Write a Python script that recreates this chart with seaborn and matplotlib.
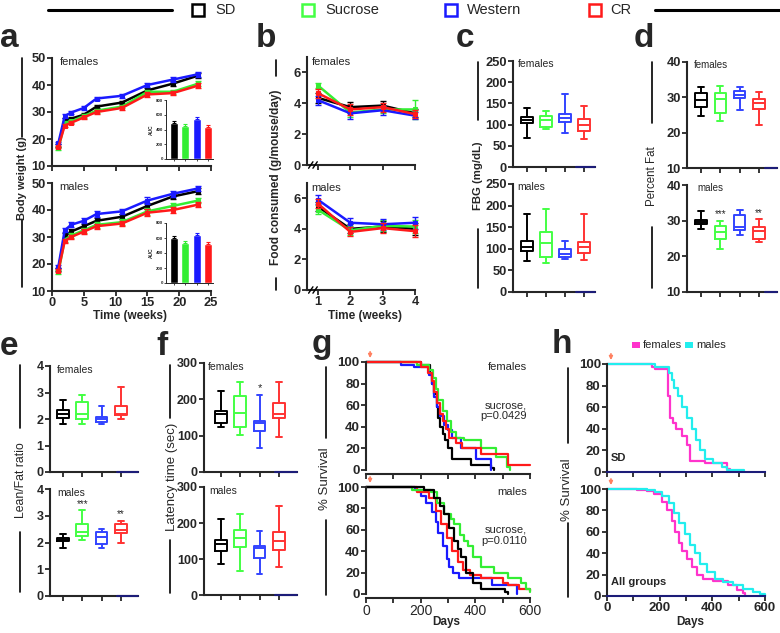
import numpy as np
import pandas as pd
import matplotlib
matplotlib.use('Agg')
import matplotlib.pyplot as plt
import seaborn as sns
from matplotlib.lines import Line2D
from matplotlib.patches import Rectangle

sns.set_style('ticks')
plt.rcParams['font.family'] = ['Liberation Sans', 'DejaVu Sans']

GROUPS = ['SD', 'Sucrose', 'Western', 'CR']
COLORS = ['#000000', '#33ee33', '#1a1aff', '#ff1a1a']
BOX_COLORS = ['#000000', '#44ff44', '#3344ff', '#ff3333']
NAVY = '#1c1c78'

# ---------------- panel a : body weight ----------------
weeks = [1, 2, 3, 5, 7, 11, 15, 19, 23]
bw_f_sd = [17.5, 27.0, 27.5, 29.0, 32.0, 33.5, 38.0, 40.5, 43.5]
bw_f_suc = [16.5, 26.0, 26.5, 28.5, 30.5, 32.0, 37.5, 37.5, 40.5]
bw_f_west = [18.5, 28.5, 29.8, 31.5, 35.0, 36.0, 40.0, 42.0, 44.0]
bw_f_cr = [17.0, 25.0, 26.0, 28.0, 30.0, 31.5, 36.5, 37.0, 39.8]
bw_m_sd = [18.0, 30.5, 32.0, 34.0, 36.0, 37.5, 41.5, 45.0, 47.0]
bw_m_suc = [17.0, 29.0, 30.5, 32.5, 34.5, 35.5, 39.5, 41.5, 43.5]
bw_m_west = [19.0, 32.5, 34.5, 36.0, 38.5, 39.5, 43.5, 46.0, 48.0]
bw_m_cr = [17.5, 28.5, 30.0, 32.0, 34.0, 35.0, 39.0, 40.0, 42.0]
bw_f_err = [0.5, 0.6, 0.6, 0.6, 0.7, 0.7, 0.8, 0.8, 0.9]
bw_m_err = [0.6, 0.8, 0.9, 0.9, 1.0, 1.0, 1.2, 1.0, 1.0]
auc_f = [490, 445, 540, 430]
auc_f_err = [22, 25, 28, 25]
auc_m = [600, 530, 645, 520]
auc_m_err = [22, 25, 28, 25]

# ---------------- panel b : food consumed ----------------
fweeks = [1, 2, 3, 4]
food_f_sd = [4.35, 3.75, 3.85, 3.35]
food_f_suc = [5.15, 3.40, 3.60, 3.60]
food_f_west = [4.20, 3.35, 3.55, 3.20]
food_f_cr = [4.65, 3.60, 3.75, 3.30]
food_f_err = [0.30, 0.35, 0.30, 0.25]
food_f_err_suc = [0.15, 0.30, 0.25, 0.60]
food_m_sd = [5.45, 4.00, 4.15, 4.00]
food_m_suc = [5.25, 3.90, 4.20, 4.15]
food_m_west = [5.90, 4.40, 4.30, 4.40]
food_m_cr = [5.65, 3.80, 4.05, 3.85]
food_m_err = [0.30, 0.30, 0.35, 0.40]

# ---------------- box panels (min, q1, median, q3, max) ----------------
fbg_f = [[68, 103, 110, 118, 138], [90, 95, 110, 120, 132], [80, 105, 115, 125, 173], [66, 85, 99, 113, 144]]
fbg_m = [[72, 95, 105, 118, 180], [67, 80, 113, 138, 193], [76, 82, 88, 100, 118], [74, 90, 104, 116, 180]]
fat_f = [[24.8, 27.3, 29.2, 31.2, 32.8], [23.3, 25.5, 29.5, 31.2, 33.2], [26.5, 29.8, 30.8, 31.8, 33.0], [22.2, 26.8, 28.5, 29.5, 31.5]]
fat_m = [[27.8, 29.0, 29.5, 30.2, 32.8], [22.0, 24.8, 26.8, 28.5, 30.0], [26.0, 27.5, 28.2, 31.5, 33.0], [24.0, 25.0, 27.0, 28.2, 30.5]]
lf_f = [[1.8, 2.05, 2.2, 2.35, 2.7], [1.8, 2.0, 2.2, 2.65, 2.9], [1.8, 1.9, 2.0, 2.08, 2.5], [2.0, 2.15, 2.2, 2.5, 3.2]]
lf_m = [[1.8, 2.05, 2.1, 2.15, 2.3], [2.1, 2.25, 2.4, 2.7, 3.2], [1.8, 1.95, 2.2, 2.4, 2.5], [2.0, 2.35, 2.45, 2.7, 2.8]]
lat_f = [[125, 134, 159, 169, 222], [103, 123, 163, 208, 247], [65, 114, 134, 140, 212], [95, 148, 159, 190, 247]]
lat_m = [[85, 123, 143, 152, 212], [67, 134, 157, 180, 226], [58, 104, 131, 137, 177], [78, 126, 150, 176, 248]]

# ---------------- panel g : survival by diet ----------------
gf_sd_days = [0, 200, 235, 242, 250, 258, 265, 272, 280, 290, 300, 316, 384, 458, 470]
gf_sd_surv = [100, 97, 90, 80, 70, 58, 48, 40, 33, 28, 20, 10, 5, 2, 0]
gf_suc_days = [0, 185, 230, 245, 255, 265, 280, 298, 310, 330, 360, 421, 476, 515, 525]
gf_suc_surv = [100, 97, 93, 85, 75, 65, 55, 45, 35, 30, 28, 20, 12, 3, 0]
gf_west_days = [0, 127, 175, 230, 240, 250, 260, 270, 285, 300, 315, 347, 402, 458]
gf_west_surv = [100, 97, 95, 88, 80, 68, 58, 50, 42, 37, 30, 20, 10, 0]
gf_cr_days = [0, 200, 225, 240, 250, 260, 270, 280, 292, 305, 330, 350, 420, 520, 600]
gf_cr_surv = [100, 95, 90, 82, 72, 62, 52, 45, 38, 30, 25, 20, 15, 5, 5]
gm_sd_days = [0, 212, 249, 270, 286, 304, 323, 335, 347, 366, 390, 421, 507, 519]
gm_sd_surv = [100, 97, 90, 82, 75, 62, 50, 42, 35, 20, 10, 5, 2, 0]
gm_suc_days = [0, 169, 237, 261, 286, 310, 323, 345, 360, 372, 390, 421, 470, 519, 568, 585, 600]
gm_suc_surv = [100, 97, 95, 85, 75, 70, 65, 55, 50, 45, 35, 25, 20, 15, 10, 5, 2]
gm_west_days = [0, 180, 200, 220, 240, 255, 265, 280, 295, 305, 320, 340, 460, 552]
gm_west_surv = [100, 97, 92, 85, 77, 67, 57, 45, 33, 25, 20, 15, 8, 0]
gm_cr_days = [0, 188, 230, 255, 275, 295, 315, 335, 355, 380, 420, 500, 520, 560, 600]
gm_cr_surv = [100, 95, 90, 78, 65, 52, 40, 30, 22, 18, 15, 10, 8, 5, 3]

# ---------------- panel h : survival by sex ----------------
hf_sd_days = [0, 171, 183, 232, 240, 250, 263, 284, 303, 316, 373, 455, 467]
hf_sd_surv = [100, 97, 95, 70, 50, 45, 40, 33, 25, 10, 8, 3, 0]
hm_sd_days = [0, 183, 235, 245, 255, 268, 284, 303, 322, 339, 354, 373, 404, 436, 455, 520]
hm_sd_surv = [100, 97, 92, 85, 78, 70, 60, 50, 40, 30, 20, 12, 8, 5, 2, 1]
hf_all_days = [0, 114, 152, 177, 208, 227, 246, 259, 272, 284, 303, 322, 341, 366, 404, 461, 493, 518, 525]
hf_all_surv = [100, 99, 98, 95, 88, 80, 70, 60, 50, 42, 35, 27, 20, 16, 14, 10, 6, 3, 0]
hm_all_days = [0, 152, 183, 208, 234, 253, 272, 297, 316, 335, 354, 379, 410, 442, 480, 518, 556, 581, 600]
hm_all_surv = [100, 99, 97, 93, 87, 78, 68, 58, 48, 40, 30, 22, 16, 13, 10, 7, 4, 2, 0]

# =====================================================================
W, H = 780, 633
fig = plt.figure(figsize=(7.8, 6.33), dpi=100)


def add_ax(l, t, r, b):
    return fig.add_axes([l / W, 1 - b / H, (r - l) / W, (b - t) / H])


def ftext(x, y, s, **kw):
    fig.text(x / W, 1 - y / H, s, **kw)


def fline(xs, ys, **kw):
    fig.add_artist(Line2D([x / W for x in xs], [1 - y / H for y in ys], **kw))


def style(ax, ylim, yticks, xlim, xticks, xlabels=None, fs=9.5, ylabels=None):
    ax.set_xlim(*xlim)
    ax.set_ylim(*ylim)
    ax.set_yticks(yticks, labels=ylabels if ylabels is not None else [str(v) for v in yticks],
                  fontsize=fs, fontweight='bold')
    ax.set_xticks(xticks, labels=xlabels if xlabels is not None else [''] * len(xticks),
                  fontsize=fs, fontweight='bold')
    for s in ['top', 'right']:
        ax.spines[s].set_visible(False)
    for s in ['left', 'bottom']:
        ax.spines[s].set_linewidth(1.5)
    ax.tick_params(width=1.3, length=3.5, pad=1.0, direction='out')
    ax.set_xlabel('')
    ax.set_ylabel('')
    ax.patch.set_alpha(0)


def line_panel(ax, x, series, errs):
    for vals, err, c in zip(series, errs, COLORS):
        df = pd.DataFrame({'x': x, 'y': vals})
        sns.lineplot(data=df, x='x', y='y', ax=ax, color=c, lw=1.8, marker='s', ms=3,
                     mec=c, estimator=None, legend=False, clip_on=False, zorder=3)
        ax.errorbar(x, vals, yerr=err, fmt='none', ecolor=c, elinewidth=1.0, capsize=2,
                    capthick=1.0, clip_on=False, zorder=3)


def box_panel(ax, data):
    stats = [dict(whislo=s[0], q1=s[1], med=s[2], q3=s[3], whishi=s[4], fliers=[]) for s in data]
    art = ax.bxp(stats, positions=range(len(data)), widths=0.6, showfliers=False, manage_ticks=False)
    for i, c in enumerate(BOX_COLORS):
        for a in [art['boxes'][i], art['medians'][i], art['whiskers'][2 * i], art['whiskers'][2 * i + 1],
                  art['caps'][2 * i], art['caps'][2 * i + 1]]:
            a.set_color(c)
            a.set_linewidth(1.4)


def navy_tail(ax, x0):
    lo, hi = ax.get_xlim()
    y = ax.get_ylim()[0]
    ax.plot([x0, hi], [y, y], color=NAVY, lw=1.5, clip_on=False, zorder=5)


def km(ax, days, surv, color):
    df = pd.DataFrame({'d': days, 's': surv})
    sns.lineplot(data=df, x='d', y='s', ax=ax, color=color, lw=1.6, drawstyle='steps-post',
                 estimator=None, legend=False, clip_on=False)


def arrow(ax):
    ax.annotate('', xy=(15, 101), xytext=(15, 112), xycoords='data',
                arrowprops=dict(arrowstyle='-|>', color='#ff8060', lw=1.2, mutation_scale=5),
                annotation_clip=False)


# ---------------- top legend ----------------
fline([48, 172], [10, 10], color='black', lw=2.2)
fline([655, 780], [10, 10], color='black', lw=2.2)
for (cx, tx, name, c) in [(198, 215, 'SD', COLORS[0]), (308, 325, 'Sucrose', '#44ff44'),
                          (451, 467, 'Western', COLORS[2]), (595, 610, 'CR', COLORS[3])]:
    fig.add_artist(Rectangle(((cx - 6) / W, 1 - 16 / H), 12 / W, 12 / H, transform=fig.transFigure,
                             facecolor='white', edgecolor=c, lw=1.8))
    ftext(tx, 10, name, fontsize=10.5, va='center', ha='left')

# panel letters
for (x, y, s) in [(0, 47, 'a'), (256, 47, 'b'), (456, 47, 'c'), (634, 47, 'd'),
                  (0, 355, 'e'), (156, 355, 'f'), (312, 353, 'g'), (552, 353, 'h')]:
    ftext(x, y, s, fontsize=24, fontweight='bold', va='baseline', ha='left')

# ---------------- panel a ----------------
a_f = add_ax(52, 58, 211, 166)
a_m = add_ax(52, 183, 211, 291)
line_panel(a_f, weeks, [bw_f_sd, bw_f_suc, bw_f_west, bw_f_cr], [bw_f_err] * 4)
line_panel(a_m, weeks, [bw_m_sd, bw_m_suc, bw_m_west, bw_m_cr], [bw_m_err] * 4)
style(a_f, (10, 50), [10, 20, 30, 40, 50], (0, 25), [0, 5, 10, 15, 20, 25], fs=9.3)
style(a_m, (10, 50), [10, 20, 30, 40, 50], (0, 25), [0, 5, 10, 15, 20, 25],
      xlabels=['0', '5', '10', '15', '20', '25'], fs=9.3)
a_f.text(1.2, 50.5, 'females', fontsize=8, va='top')
a_m.text(1.2, 50.5, 'males', fontsize=8, va='top')

for (t, b, vals, errs) in [(100, 159, auc_f, auc_f_err), (223, 283, auc_m, auc_m_err)]:
    ins = add_ax(166, t, 213, b)
    sns.barplot(x=GROUPS, y=vals, hue=GROUPS, palette=COLORS, legend=False, ax=ins, width=0.7,
                errorbar=None, saturation=1)
    for i, (v, e, c) in enumerate(zip(vals, errs, COLORS)):
        ins.errorbar(i, v, yerr=[[0], [e]], fmt='none', ecolor=c, elinewidth=0.8, capsize=1.5, capthick=0.8)
    ins.set_xlim(-0.71, 3.45)
    ins.set_ylim(0, 800)
    ins.set_yticks([0, 200, 400, 600, 800], labels=['0', '200', '400', '600', '800'], fontsize=3.2,
                   fontweight='bold')
    ins.set_xticks([0, 1, 2, 3], labels=[''] * 4)
    for s in ['top', 'right']:
        ins.spines[s].set_visible(False)
    for s in ['left', 'bottom']:
        ins.spines[s].set_linewidth(0.7)
    ins.tick_params(width=0.6, length=1.5, pad=0.8)
    ins.set_xlabel('')
    ins.set_ylabel('AUC', fontsize=3.5, fontweight='bold', labelpad=1)
    ins.patch.set_alpha(0)

ftext(22, 178, 'Body weight (g)', fontsize=8, fontweight='bold', rotation=90, ha='center', va='center')
fline([22, 22], [58, 137], color='black', lw=1.2)
fline([22, 22], [220, 287], color='black', lw=1.2)
ftext(130, 316, 'Time (weeks)', fontsize=8.5, fontweight='bold', ha='center', va='center')

# ---------------- panel b ----------------
b_f = add_ax(307, 57, 415, 165)
b_m = add_ax(307, 183, 415, 290)
line_panel(b_f, fweeks, [food_f_sd, food_f_suc, food_f_west, food_f_cr],
           [food_f_err, food_f_err_suc, food_f_err, food_f_err])
line_panel(b_m, fweeks, [food_m_sd, food_m_suc, food_m_west, food_m_cr], [food_m_err] * 4)
style(b_f, (0, 7), [0, 2, 4, 6], (0.66, 4.0), [1, 2, 3, 4], fs=9.3)
style(b_m, (0, 7), [0, 2, 4, 6], (0.66, 4.0), [1, 2, 3, 4], xlabels=['1', '2', '3', '4'], fs=9.3)
b_f.text(0.8, 7.0, 'females', fontsize=8, va='top')
b_m.text(0.8, 7.0, 'males', fontsize=8, va='top')
for ax in (b_f, b_m):
    for dx in (0.035, 0.075):
        ax.plot([dx - 0.02, dx + 0.02], [-0.03, 0.03], transform=ax.transAxes, color='black',
                lw=1.0, clip_on=False, zorder=6)
ftext(276, 177, 'Food consumed (g/mouse/day)', fontsize=8.6, fontweight='bold', rotation=90,
      ha='center', va='center')
fline([276, 276], [60, 76], color='black', lw=1.2)
fline([276, 276], [278, 290], color='black', lw=1.2)
ftext(365, 316, 'Time (weeks)', fontsize=8.5, fontweight='bold', ha='center', va='center')

# ---------------- panel c ----------------
c_f = add_ax(513, 61, 595, 167)
c_m = add_ax(513, 184, 595, 292)
box_panel(c_f, fbg_f)
box_panel(c_m, fbg_m)
for ax in (c_f, c_m):
    style(ax, (0, 250), [0, 50, 100, 150, 200, 250], (-0.74, 3.58), [0, 1, 2, 3], fs=9.3)
    navy_tail(ax, 2.6)
c_f.text(-0.5, 255, 'females', fontsize=7.5, va='top')
c_m.text(-0.5, 255, 'males', fontsize=7.5, va='top')
ftext(478, 176, 'FBG (mg/dL)', fontsize=8.2, fontweight='bold', rotation=90, ha='center', va='center')
fline([478, 478], [62, 120], color='black', lw=1.2)
fline([478, 478], [229, 288], color='black', lw=1.2)

# ---------------- panel d ----------------
d_f = add_ax(687, 62, 777, 168)
d_m = add_ax(687, 185, 777, 292)
box_panel(d_f, fat_f)
box_panel(d_m, fat_m)
for ax in (d_f, d_m):
    style(ax, (10, 40), [10, 20, 30, 40], (-0.73, 3.94), [0, 1, 2, 3], fs=9.3)
    navy_tail(ax, 3.3)
d_f.text(-0.4, 40.5, 'females', fontsize=7, va='top')
d_m.text(-0.2, 40.5, 'males', fontsize=7, va='top')
d_m.text(1, 31.8, '***', fontsize=7, ha='center', va='center')
d_m.text(3, 32.0, '**', fontsize=7, ha='center', va='center')
ftext(652, 176, 'Percent Fat', fontsize=8.3, rotation=90, ha='center', va='center')
fline([652, 652], [62, 123], color='black', lw=1.2)
fline([652, 652], [227, 288], color='black', lw=1.2)

# ---------------- panel e ----------------
e_f = add_ax(50, 366, 138, 472)
e_m = add_ax(50, 489, 138, 596)
box_panel(e_f, lf_f)
box_panel(e_m, lf_m)
for ax in (e_f, e_m):
    style(ax, (0, 4), [0, 1, 2, 3, 4], (-0.67, 3.89), [0, 1, 2, 3], fs=9)
    navy_tail(ax, 2.8)
e_f.text(-0.3, 4.05, 'females', fontsize=7.5, va='top')
e_m.text(-0.3, 4.05, 'males', fontsize=7.5, va='top')
e_m.text(1, 3.45, '***', fontsize=7, ha='center', va='center')
e_m.text(3, 3.08, '**', fontsize=7, ha='center', va='center')
ftext(21, 480, 'Lean/Fat ratio', fontsize=8.8, rotation=90, ha='center', va='center')
fline([20, 20], [365, 428], color='black', lw=1.2)
fline([20, 20], [532, 592], color='black', lw=1.2)

# ---------------- panel f ----------------
f_f = add_ax(204, 363, 297, 472)
f_m = add_ax(204, 487, 297, 595)
box_panel(f_f, lat_f)
box_panel(f_m, lat_m)
for ax in (f_f, f_m):
    style(ax, (0, 300), [0, 100, 200, 300], (-0.88, 3.94), [0, 1, 2, 3], fs=9)
    navy_tail(ax, 2.8)
f_f.text(-0.7, 303, 'females', fontsize=7.5, va='top')
f_m.text(-0.6, 303, 'males', fontsize=7.5, va='top')
f_f.text(2, 232, '*', fontsize=8, ha='center', va='center')
ftext(172, 477, 'Latency time (sec)', fontsize=9.5, rotation=90, ha='center', va='center')
fline([170, 170], [365, 418], color='black', lw=1.2)
fline([170, 170], [540, 593], color='black', lw=1.2)

# ---------------- panel g ----------------
g_f = add_ax(366, 362, 530, 470)
g_m = add_ax(366, 487, 530, 594)
for days, surv, c in [(gf_sd_days, gf_sd_surv, COLORS[0]), (gf_west_days, gf_west_surv, COLORS[2]),
                      (gf_suc_days, gf_suc_surv, COLORS[1]), (gf_cr_days, gf_cr_surv, COLORS[3])]:
    km(g_f, days, surv, c)
for days, surv, c in [(gm_west_days, gm_west_surv, COLORS[2]), (gm_cr_days, gm_cr_surv, COLORS[3]),
                      (gm_suc_days, gm_suc_surv, COLORS[1]), (gm_sd_days, gm_sd_surv, COLORS[0])]:
    km(g_m, days, surv, c)
xt = [0, 100, 200, 300, 400, 500, 600]
xl = ['0', '', '200', '', '400', '', '600']
style(g_f, (0, 100), [0, 20, 40, 60, 80, 100], (0, 600), xt, fs=9.5)
style(g_m, (0, 100), [0, 20, 40, 60, 80, 100], (0, 600), xt, xlabels=xl, fs=9.5)
for ax in (g_f, g_m):
    ax.spines['bottom'].set_position(('outward', 3))
    arrow(ax)
g_f.text(590, 100, 'females', fontsize=8, ha='right', va='top')
g_f.text(590, 55, 'sucrose,\np=0.0429', fontsize=8, ha='right', va='center', linespacing=1.1)
g_m.text(590, 100, 'males', fontsize=8, ha='right', va='top')
g_m.text(590, 55, 'sucrose,\np=0.0110', fontsize=8, ha='right', va='center', linespacing=1.1)
ftext(325, 479, '% Survival', fontsize=9.5, rotation=90, ha='center', va='center')
fline([326, 326], [367, 438], color='black', lw=1.2)
fline([326, 326], [520, 595], color='black', lw=1.2)
ftext(446, 622, 'Days', fontsize=8.5, fontweight='bold', ha='center', va='center')

# ---------------- panel h ----------------
h_t = add_ax(607, 364, 765, 472)
h_b = add_ax(607, 489, 765, 596)
km(h_t, hf_sd_days, hf_sd_surv, '#ff33cc')
km(h_t, hm_sd_days, hm_sd_surv, '#22eeee')
km(h_b, hf_all_days, hf_all_surv, '#ff33cc')
km(h_b, hm_all_days, hm_all_surv, '#22eeee')
style(h_t, (0, 100), [0, 20, 40, 60, 80, 100], (0, 600), xt, fs=9.5)
style(h_b, (0, 100), [0, 20, 40, 60, 80, 100], (0, 600), xt, xlabels=xl, fs=9.5)
for ax in (h_t, h_b):
    ax.spines['bottom'].set_color(NAVY)
    arrow(ax)
h_t.text(15, 8, 'SD', fontsize=8, fontweight='bold', ha='left', va='bottom')
h_b.text(15, 8, 'All groups', fontsize=8, fontweight='bold', ha='left', va='bottom')
ftext(567, 490, '% Survival', fontsize=9.5, rotation=90, ha='center', va='center')
fline([568, 568], [368, 443], color='black', lw=1.2)
fline([568, 568], [523, 597], color='black', lw=1.2)
ftext(690, 622, 'Days', fontsize=8.5, fontweight='bold', ha='center', va='center')
for (x0, tx, name, c) in [(632, 643, 'females', '#ff33cc'), (685, 696, 'males', '#22eeee')]:
    fig.add_artist(Rectangle((x0 / W, 1 - 348 / H), 8 / W, 6 / H, transform=fig.transFigure,
                             facecolor=c, edgecolor='none'))
    ftext(tx, 345, name, fontsize=8, ha='left', va='center')

fig.savefig('out.png', dpi=100)
